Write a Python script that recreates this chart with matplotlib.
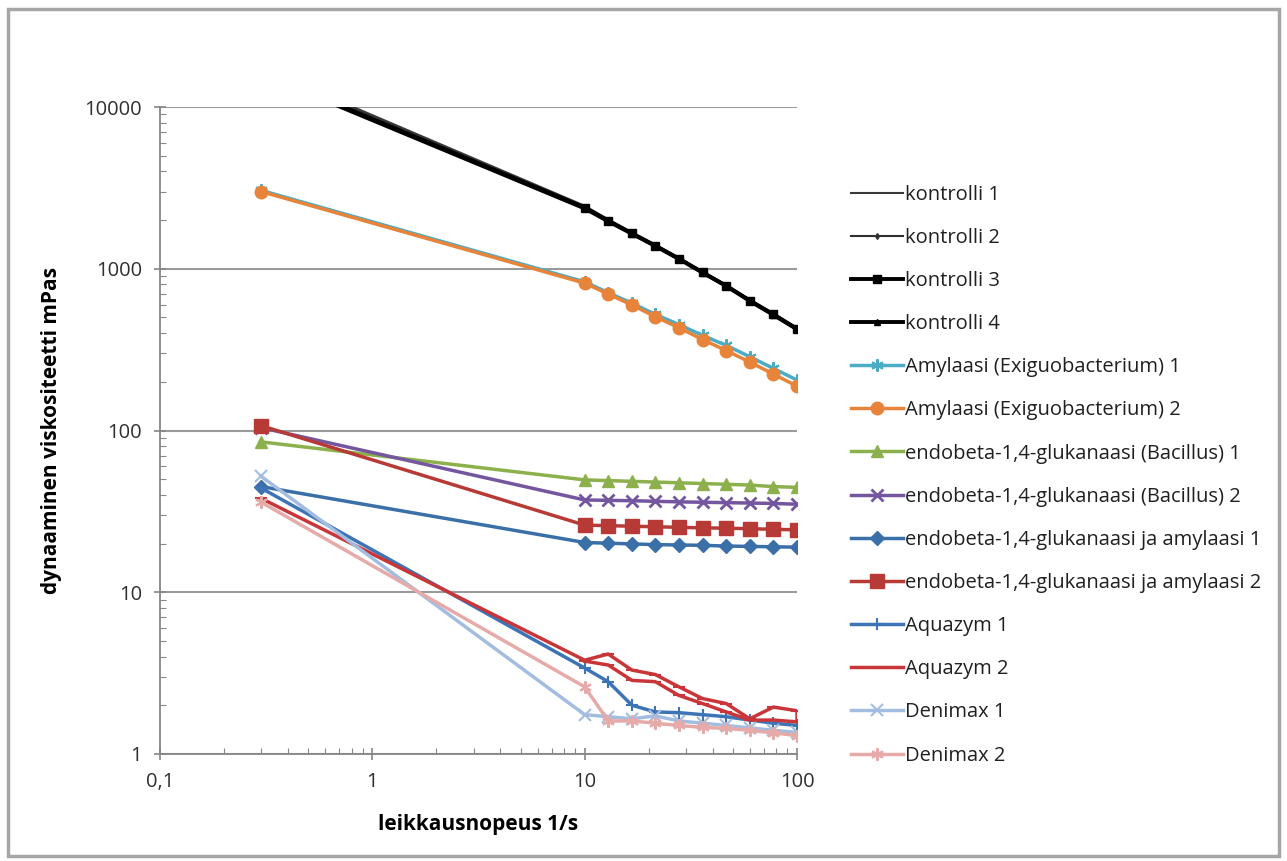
import numpy as np
import matplotlib
matplotlib.use("Agg")
import matplotlib.pyplot as plt
from matplotlib.patches import Rectangle
from matplotlib.ticker import FixedLocator, LogLocator, NullFormatter

plt.rcParams['font.family'] = ['Open Sans', 'DejaVu Sans']

# shear rate points (1/s)
shear = [0.3, 10, 12.9, 16.7, 21.5, 27.8, 35.9, 46.4, 59.9, 77.4, 100]
shear_back = [100, 77.4, 59.9, 46.4, 35.9, 27.8, 21.5, 16.7, 12.9, 10]

kontrolli1 = [17500, 2450, 2020, 1680, 1410, 1170, 960, 795, 645, 530, 432]
kontrolli2 = [17000, 2420, 2000, 1665, 1400, 1165, 955, 790, 640, 526, 428]
kontrolli3 = [16300, 2390, 1985, 1655, 1390, 1155, 950, 785, 636, 522, 425]
kontrolli4 = [16000, 2360, 1965, 1645, 1382, 1148, 946, 781, 632, 518, 422]
amylaasi1 = [3050, 830, 712, 612, 522, 452, 387, 336, 286, 242, 205]
amylaasi2 = [3000, 815, 698, 597, 505, 432, 365, 312, 265, 223, 188]
bacillus1 = [85, 49.5, 49, 48.5, 48, 47.5, 47, 46.5, 46, 45, 44.5]
bacillus2 = [104, 37.2, 37, 36.8, 36.5, 36.2, 36, 35.8, 35.6, 35.4, 35]
gluk_amy1 = [45, 20.3, 20.1, 19.9, 19.7, 19.6, 19.5, 19.3, 19.2, 19.1, 19]
gluk_amy2 = [107, 26, 25.8, 25.6, 25.4, 25.2, 25, 24.9, 24.7, 24.5, 24.3]
aquazym1 = [44, 3.4, 2.8, 2.0, 1.82, 1.8, 1.75, 1.7, 1.62, 1.55, 1.5]
aquazym2 = [38, 3.8, 4.15, 3.3, 3.1, 2.6, 2.2, 2.05, 1.65, 1.95, 1.85]
aquazym2_back = [1.58, 1.62, 1.62, 1.82, 2.05, 2.3, 2.8, 2.85, 3.55, 3.75]
denimax1 = [52, 1.75, 1.7, 1.65, 1.72, 1.6, 1.55, 1.5, 1.45, 1.4, 1.36]
denimax2 = [36, 2.6, 1.6, 1.6, 1.55, 1.5, 1.46, 1.44, 1.4, 1.35, 1.3]

fig = plt.figure(figsize=(12.87, 8.61), dpi=100)
fig.patches.append(Rectangle((0.006, 0.006), 0.988, 0.984, transform=fig.transFigure,
                             fill=False, edgecolor='#a6a6a6', linewidth=2.5))
ax = fig.add_axes([0.1243, 0.1243, 0.495, 0.7514])

star = (6, 2, 0)
ax.plot(shear, kontrolli1, color='#3a3a3a', lw=1.5, label='kontrolli 1', zorder=3)
ax.plot(shear, kontrolli2, color='#303030', lw=1.5, marker='d', ms=3, label='kontrolli 2', zorder=3)
ax.plot(shear, kontrolli3, color='black', lw=2.8, marker='s', ms=6, label='kontrolli 3', zorder=3)
ax.plot(shear, kontrolli4, color='black', lw=2.8, marker='^', ms=4, label='kontrolli 4', zorder=3)
ax.plot(shear, amylaasi1, color='#4bacc6', lw=2.5, marker=star, ms=9, mew=1.5,
        label='Amylaasi (Exiguobacterium) 1', zorder=3)
ax.plot(shear, amylaasi2, color='#e8843a', lw=2.5, marker='o', ms=9,
        label='Amylaasi (Exiguobacterium) 2', zorder=3)
ax.plot(shear, bacillus1, color='#8cb04c', lw=2.5, marker='^', ms=9,
        label='endobeta-1,4-glukanaasi (Bacillus) 1', zorder=3)
ax.plot(shear, bacillus2, color='#7455a0', lw=2.5, marker='x', ms=9, mew=2,
        label='endobeta-1,4-glukanaasi (Bacillus) 2', zorder=3)
ax.plot(shear, gluk_amy1, color='#3a6fa8', lw=2.5, marker='D', ms=7,
        label='endobeta-1,4-glukanaasi ja amylaasi 1', zorder=3)
ax.plot(shear, gluk_amy2, color='#b83a37', lw=2.5, marker='s', ms=10,
        label='endobeta-1,4-glukanaasi ja amylaasi 2', zorder=3)
ax.plot(shear, aquazym1, color='#3d74b5', lw=2.5, marker='+', ms=9, mew=1.5,
        label='Aquazym 1', zorder=3)
ax.plot(shear + shear_back, aquazym2 + aquazym2_back, color='#c9363a', lw=2.5,
        marker='_', ms=9, mew=1.5, label='Aquazym 2', zorder=3)
ax.plot(shear, denimax1, color='#a3bde0', lw=2.5, marker='x', ms=9, mew=1.5,
        label='Denimax 1', zorder=3)
ax.plot(shear, denimax2, color='#e6aaa9', lw=2.5, marker=star, ms=9, mew=1.5,
        label='Denimax 2', zorder=3)

ax.set_xscale('log')
ax.set_yscale('log')
ax.set_xlim(0.1, 100)
ax.set_ylim(1, 10000)

ax.xaxis.set_major_locator(FixedLocator([0.1, 1, 10, 100]))
ax.set_xticklabels(['0,1', '1', '10', '100'])
ax.yaxis.set_major_locator(FixedLocator([1, 10, 100, 1000, 10000]))
ax.set_yticklabels(['1', '10', '100', '1000', '10000'])
ax.xaxis.set_minor_locator(LogLocator(base=10, subs=np.arange(2, 10)))
ax.yaxis.set_minor_locator(LogLocator(base=10, subs=np.arange(2, 10)))
ax.xaxis.set_minor_formatter(NullFormatter())
ax.yaxis.set_minor_formatter(NullFormatter())

ax.tick_params(which='major', direction='inout', length=8, width=1.2, color='#868686',
               labelsize=14.5, labelcolor='#303030', pad=9)
ax.tick_params(which='minor', direction='in', length=4, width=0.8, color='#868686')

ax.grid(axis='y', which='major', color='#9a9a9a', lw=1.5)
ax.set_axisbelow(True)
for side in ['top', 'right']:
    ax.spines[side].set_visible(False)
for side in ['left', 'bottom']:
    ax.spines[side].set_color('#868686')
    ax.spines[side].set_linewidth(1.3)

ax.set_xlabel('leikkausnopeus 1/s', fontsize=15, fontweight='bold', labelpad=16)
ax.set_ylabel('dynaaminen viskositeetti mPas', fontsize=15, fontweight='bold', labelpad=16)

leg = ax.legend(loc='upper left', bbox_to_anchor=(0.655, 0.795), bbox_transform=fig.transFigure,
                frameon=False, fontsize=14.5, labelspacing=1.15, handlelength=2.6,
                handletextpad=0.1, borderaxespad=0)
for t in leg.get_texts():
    t.set_color('#202020')

fig.savefig('out.png', dpi=100)
